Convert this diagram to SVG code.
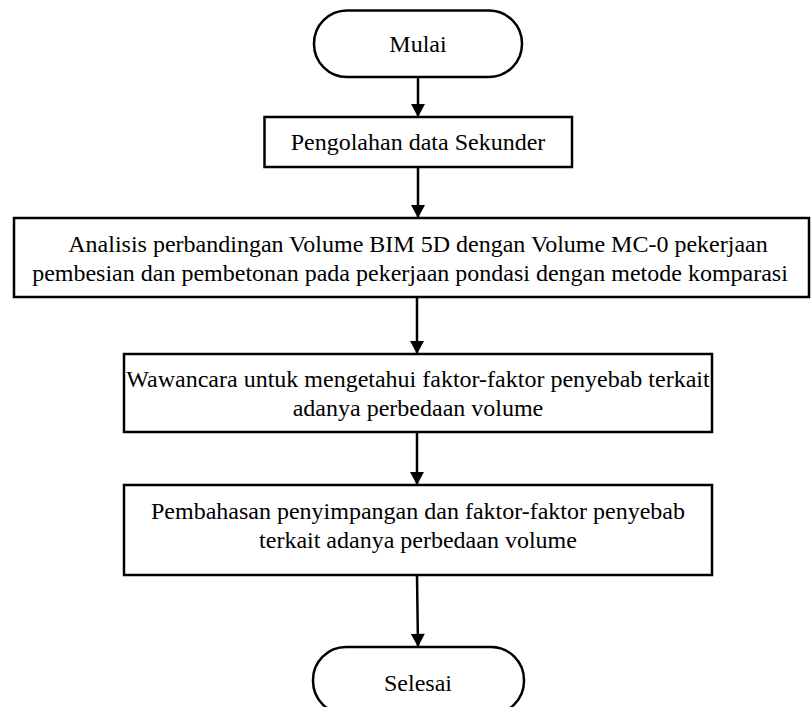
<svg xmlns="http://www.w3.org/2000/svg" width="811" height="707" viewBox="0 0 811 707">
  <defs>
    <marker id="arrow" viewBox="0 0 14 15" refX="14" refY="7.5" markerWidth="15" markerHeight="14" markerUnits="userSpaceOnUse" orient="auto">
      <path d="M0,0 L14,7.5 L0,15 Z" fill="#000"/>
    </marker>
    <style>
      .shape { fill: #fff; stroke: #000; stroke-width: 2.5; }
      .label { font-family: "Liberation Serif", "Times New Roman", serif; font-size: 24px; fill: #000; text-anchor: middle; }
      .conn { stroke: #000; stroke-width: 2.5; fill: none; marker-end: url(#arrow); }
    </style>
  </defs>
  <rect width="811" height="707" fill="#fff"/>

  <!-- flow arrows between steps -->
  <g id="connectors">
    <line class="conn" x1="418" y1="77" x2="418" y2="117"/>
    <line class="conn" x1="418" y1="167" x2="418" y2="218"/>
    <line class="conn" x1="417" y1="297" x2="417" y2="354"/>
    <line class="conn" x1="417" y1="432" x2="417" y2="485"/>
    <line class="conn" x1="417" y1="575" x2="418" y2="647"/>
  </g>

  <g id="mulai">
    <rect class="shape" x="314" y="10.5" width="208" height="66.5" rx="33" ry="33"/>
    <text class="label" x="418" y="52">Mulai</text>
  </g>

  <g id="pengolahan">
    <rect class="shape" x="264.5" y="117" width="307.5" height="50"/>
    <text class="label" x="418" y="150">Pengolahan data Sekunder</text>
  </g>

  <g id="analisis">
    <rect class="shape" x="14" y="218" width="795" height="79"/>
    <text class="label" x="418" y="252">Analisis perbandingan Volume BIM 5D dengan Volume MC-0 pekerjaan</text>
    <text class="label" x="410" y="281">pembesian dan pembetonan pada pekerjaan pondasi dengan metode komparasi</text>
  </g>

  <g id="wawancara">
    <rect class="shape" x="124" y="354" width="588" height="78"/>
    <text class="label" x="418" y="387">Wawancara untuk mengetahui faktor-faktor penyebab terkait</text>
    <text class="label" x="418" y="416">adanya perbedaan volume</text>
  </g>

  <g id="pembahasan">
    <rect class="shape" x="124" y="485" width="588" height="90"/>
    <text class="label" x="418" y="519">Pembahasan penyimpangan dan faktor-faktor penyebab</text>
    <text class="label" x="418" y="548">terkait adanya perbedaan volume</text>
  </g>

  <g id="selesai">
    <rect class="shape" x="313" y="647" width="211" height="67" rx="33" ry="33"/>
    <text class="label" x="418" y="691">Selesai</text>
  </g>
</svg>
